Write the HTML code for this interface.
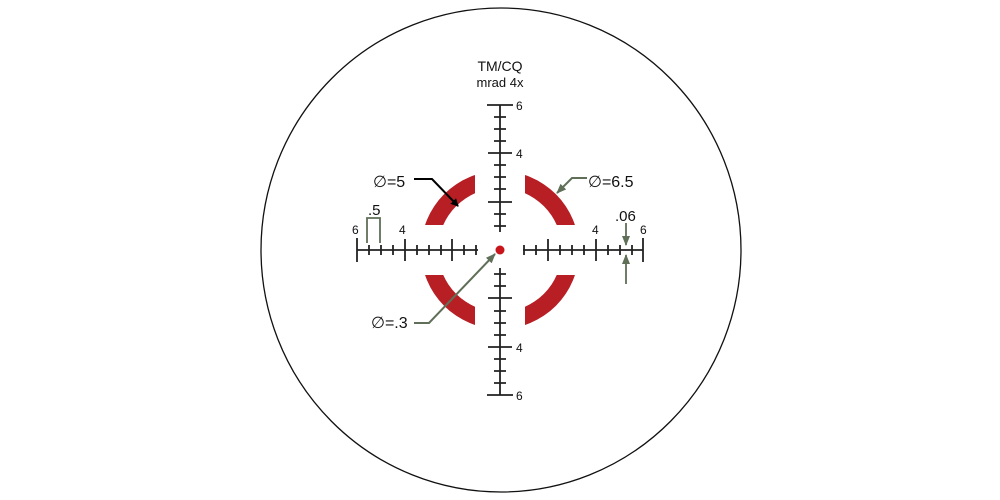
<!DOCTYPE html>
<html><head><meta charset="utf-8"><style>
html,body{margin:0;padding:0;background:#fff;width:1000px;height:500px;overflow:hidden}
svg{display:block}
text{font-family:"Liberation Sans",sans-serif}
</style></head><body>
<svg width="1000" height="500" viewBox="0 0 1000 500">
<defs>
<clipPath id="cq"><path d="M0 0H475V225H0Z M525 0H1000V225H525Z M0 275H475V500H0Z M525 275H1000V500H525Z"/></clipPath>
<marker id="ab" markerWidth="8" markerHeight="8" refX="7" refY="4" orient="auto" markerUnits="userSpaceOnUse"><path d="M0 0L8 4L0 8Z" fill="#000"/></marker>
<marker id="ag" markerWidth="10" markerHeight="8" refX="9" refY="4" orient="auto" markerUnits="userSpaceOnUse"><path d="M0 0L10 4L0 8Z" fill="#5f6f58"/></marker>
</defs>
<ellipse cx="501" cy="250" rx="240" ry="242" fill="none" stroke="#111" stroke-width="1.3"/>
<path clip-path="url(#cq)" fill-rule="evenodd" fill="#b71f25" d="M421 250a79 79 0 1 0 158 0a79 79 0 1 0 -158 0Z M438 250a62 62 0 1 0 124 0a62 62 0 1 0 -124 0Z"/>
<circle cx="500" cy="250" r="4.5" fill="#c8141b"/>
<g stroke="#222" stroke-width="1.8" fill="none">
<path d="M357 250H478M523 250H643M500 105V232M500 268V395"/>
<path d="M357 238V262M405 239V261M452 239V261M548 239V261M596 239V261M643 238V262"/>
<path d="M369 245V255M381 245V255M393 245V255M417 245V255M429 245V255M441 245V255M464 245V255M476 245V255M524 245V255M536 245V255M560 245V255M572 245V255M584 245V255M608 245V255M620 245V255M632 245V255"/>
<path d="M487 105H513M488 153H512M488 202H512M488 298H512M488 347H512M487 395H513"/>
<path d="M494 117H506M494 129H506M494 141H506M494 165H506M494 177H506M494 189H506M494 214H506M494 226H506M494 274H506M494 286H506M494 311H506M494 323H506M494 335H506M494 359H506M494 371H506M494 383H506"/>
</g>
<g font-size="12" fill="#111">
<text x="352" y="234">6</text><text x="399" y="234">4</text>
<text x="592" y="234">4</text><text x="640" y="234">6</text>
<text x="516" y="110">6</text><text x="516" y="158">4</text>
<text x="516" y="352">4</text><text x="516" y="400">6</text>
</g>
<text x="500" y="71" font-size="14" text-anchor="middle" fill="#111">TM/CQ</text>
<text x="500" y="87" font-size="13" text-anchor="middle" fill="#111">mrad 4x</text>
<text x="373" y="187" font-size="16" fill="#111">∅=5</text>
<path d="M414 179H432L458 206" stroke="#000" stroke-width="2" fill="none" marker-end="url(#ab)"/>
<text x="588" y="187" font-size="16" fill="#111">∅=6.5</text>
<path d="M587 178H572L557 193" stroke="#5f6f58" stroke-width="2" fill="none" marker-end="url(#ag)"/>
<text x="371" y="328" font-size="16" fill="#111">∅=.3</text>
<path d="M414 323H429L495 254" stroke="#5f6f58" stroke-width="2" fill="none" marker-end="url(#ag)"/>
<text x="368" y="215" font-size="15" fill="#111">.5</text>
<path d="M367 243V218H380V243" stroke="#5f6f58" stroke-width="1.8" fill="none"/>
<text x="615" y="221" font-size="15" fill="#111">.06</text>
<path d="M626 223V245" stroke="#5f6f58" stroke-width="1.8" fill="none" marker-end="url(#ag)"/>
<path d="M626 284V255" stroke="#5f6f58" stroke-width="1.8" fill="none" marker-end="url(#ag)"/>
</svg>
</body></html>
